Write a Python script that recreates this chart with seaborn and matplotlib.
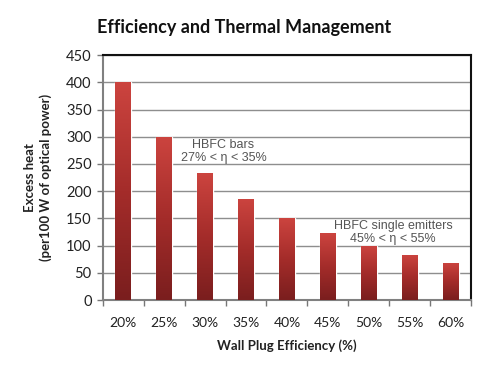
import numpy as np
import pandas as pd
import matplotlib
matplotlib.use("Agg")
import matplotlib.pyplot as plt
from matplotlib.colors import LinearSegmentedColormap
import seaborn as sns

# Data
efficiency = ["20%", "25%", "30%", "35%", "40%", "45%", "50%", "55%", "60%"]
excess_heat = [400, 300, 233, 186, 150, 123, 100, 83, 68]
y_ticks = [0, 50, 100, 150, 200, 250, 300, 350, 400, 450]

df = pd.DataFrame({"eff": efficiency, "heat": excess_heat})

sns.set_theme(style="white")
plt.rcParams["font.family"] = ["Lato", "DejaVu Sans"]

fig = plt.figure(figsize=(4.99, 3.65), dpi=100)
ax = fig.add_axes([0.206, 0.178, 0.738, 0.671])

sns.barplot(data=df, x="eff", y="heat", color="#b03030", width=0.39, ax=ax, zorder=2)

# vertical gradient fill on each bar
cmap = LinearSegmentedColormap.from_list("bar", ["#7a1e1e", "#a42c2a", "#cc443f"])
grad = np.linspace(0, 1, 256).reshape(-1, 1)
for p in ax.patches:
    x0, y0 = p.get_x(), p.get_y()
    w, h = p.get_width(), p.get_height()
    im = ax.imshow(grad, cmap=cmap, origin="lower", aspect="auto",
                   extent=[x0, x0 + w, y0, y0 + h], zorder=3)
    im.set_clip_path(p)

ax.set_xlim(-0.5, len(efficiency) - 0.5)
ax.set_ylim(0, 450)
ax.set_yticks(y_ticks)
ax.grid(axis="y", color="#8e8e8e", linewidth=1.0, zorder=1)
ax.set_axisbelow(True)

# tick marks between categories
ax.set_xticks(np.arange(len(efficiency)))
ax.set_xticklabels(efficiency, fontsize=10, color="#222222")
ax.set_xticks(np.arange(-0.5, len(efficiency)), minor=True)
ax.tick_params(axis="x", which="major", length=0, pad=12)
ax.tick_params(axis="x", which="minor", length=4, width=1, color="#777777", direction="out", bottom=True)
ax.tick_params(axis="y", length=4, width=1, color="#777777", direction="out", left=True,
               labelsize=10.5, labelcolor="#222222", pad=4)

for s in ["left", "bottom"]:
    ax.spines[s].set_color("#808080")
    ax.spines[s].set_linewidth(1.5)
for s in ["top", "right"]:
    ax.spines[s].set_color("#111111")
    ax.spines[s].set_linewidth(1.5)

ax.set_xlabel("Wall Plug Efficiency (%)", fontsize=9.5, fontweight="bold", labelpad=8, color="#222222")
ax.set_ylabel("Excess heat\n(per100 W of optical power)", fontsize=9.5, fontweight="bold",
              labelpad=10, color="#222222", linespacing=1.3)

ax.text(2.45, 273, "HBFC bars\n27% < η < 35%", ha="center", va="center", fontsize=9,
        color="#555555", family=["Liberation Sans", "DejaVu Sans"], zorder=5, linespacing=1.05)
ax.text(6.6, 124, "HBFC single emitters\n45% < η < 55%", ha="center", va="center", fontsize=9,
        color="#555555", family=["Liberation Sans", "DejaVu Sans"], zorder=5, linespacing=1.05)

fig.text(0.49, 0.924, "Efficiency and Thermal Management", ha="center", va="center",
         fontsize=13, fontweight="bold", color="#111111")

fig.savefig("out.png", dpi=100)
